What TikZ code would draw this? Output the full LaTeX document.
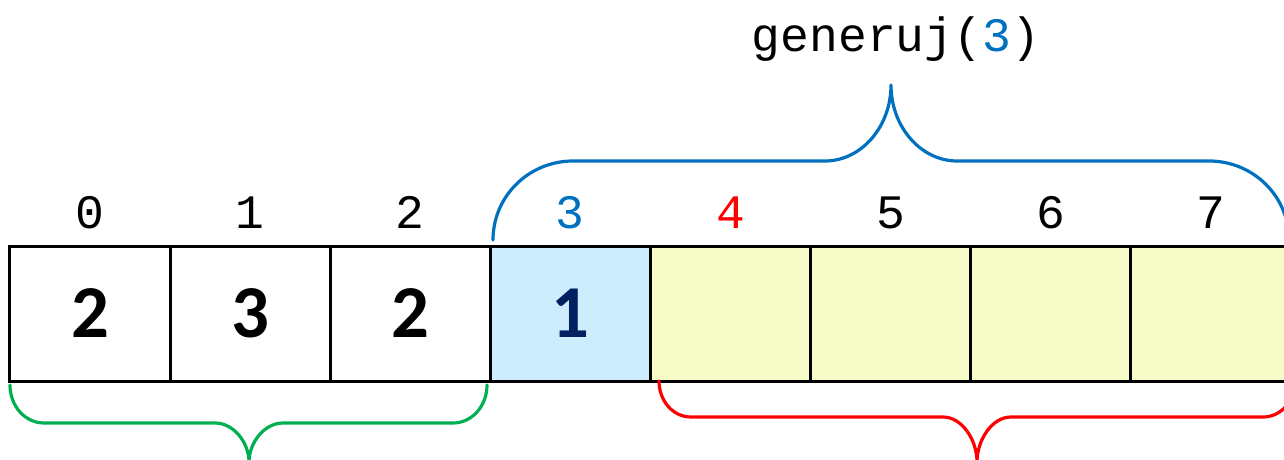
\documentclass[tikz,border=0pt]{standalone}
\usepackage{fontspec}
\newfontfamily\cellfont{Carlito}
\newfontfamily\monofont{Liberation Mono}
\definecolor{bblue}{RGB}{0,112,192}
\definecolor{bgreen}{RGB}{0,176,80}
\definecolor{bred}{RGB}{255,0,0}
\definecolor{navy}{RGB}{0,32,96}
\definecolor{lblue}{RGB}{205,236,253}
\definecolor{lyellow}{RGB}{246,251,200}
\begin{document}
\begin{tikzpicture}[x=0.75pt,y=-0.75pt,
  cellbox/.style={draw=black,line width=2.25pt,minimum width=120.08pt,minimum height=101.25pt,inner sep=0pt,
    font=\cellfont\bfseries\fontsize{56}{60}\selectfont},
  idx/.style={anchor=base,inner sep=0pt,font=\monofont\fontsize{36}{40}\selectfont},
  bracepath/.style={line width=2.4pt,line cap=round,line join=round}]
\useasboundingbox (0,0) rectangle (1284,460);
\clip (0,0) rectangle (1284,460);
% cells
\foreach \i/\v/\f/\c in {0/2/white/black,1/3/white/black,2/2/white/black,3/1/lblue/navy,4//lyellow/black,5//lyellow/black,6//lyellow/black,7//lyellow/black}{
  \node[cellbox,fill=\f,text=\c] (c\i) at ({90+160.1*\i},313.5) {\v};
}
% indices
\foreach \i/\c in {0/black,1/black,2/black,3/bblue,4/bred,5/black,6/black,7/black}{
  \node[idx,text=\c] (i\i) at ({90+160.1*\i},228) {\i};
}
\node[idx] (call) at (896,52) {generuj(\textcolor{bblue}{3})};
% blue brace
\draw[bracepath,bblue] (493,240) .. controls (493,196) and (529,161) .. (573,161) -- (825,161)
  .. controls (861,161) and (891,127) .. (891,85)
  .. controls (891,127) and (921,161) .. (957,161) -- (1209,161)
  .. controls (1253,161) and (1289,196) .. (1289,240);
% green brace
\draw[bracepath,bgreen] (10,385) .. controls (10,406) and (25,423) .. (44,423) -- (215,423)
  .. controls (234,423) and (249,443) .. (249,462)
  .. controls (249,443) and (264,423) .. (283,423) -- (453,423)
  .. controls (472,423) and (487,406) .. (487,385);
% red brace
\draw[bracepath,bred] (659,381) .. controls (659,401) and (673,417) .. (691,417) -- (943,417)
  .. controls (962,417) and (977,440) .. (977,462)
  .. controls (977,440) and (992,417) .. (1011,417) -- (1263,417)
  .. controls (1281,417) and (1295,401) .. (1295,381);
\end{tikzpicture}
\end{document}
